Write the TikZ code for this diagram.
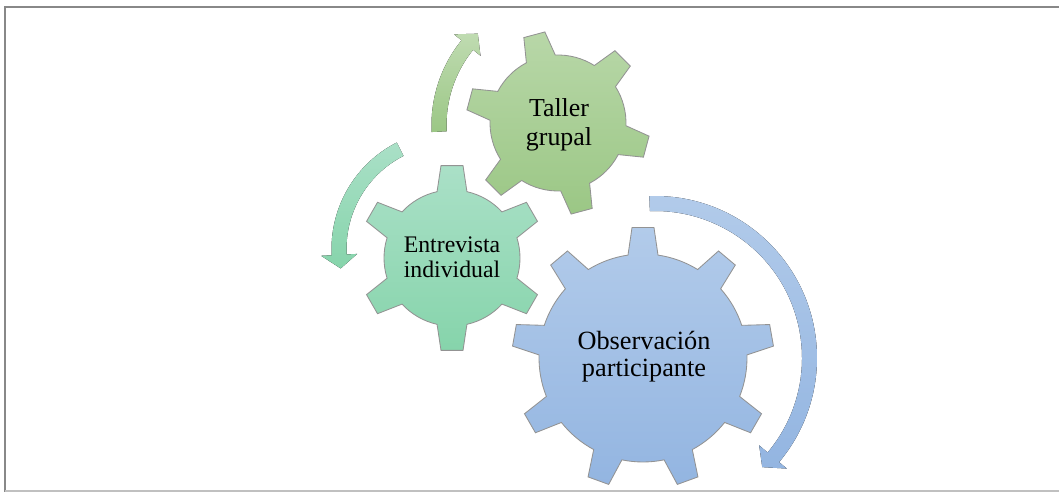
\documentclass[tikz,border=0pt]{standalone}
\usepackage{fontspec}
\setmainfont{Liberation Serif}

\definecolor{tallerTop}{RGB}{184,215,168}
\definecolor{tallerBot}{RGB}{155,199,133}
\definecolor{entrevTop}{RGB}{170,224,199}
\definecolor{entrevBot}{RGB}{134,212,171}
\definecolor{obsTop}{RGB}{178,203,234}
\definecolor{obsBot}{RGB}{147,181,225}
\definecolor{frameGray}{RGB}{136,136,136}
\definecolor{frameLight}{RGB}{192,192,192}

\begin{document}
\begin{tikzpicture}[x=0.025cm, y=-0.025cm,
    gearline/.style={draw=gray!85, line width=0.6pt},
    gearlabel/.style={align=center, inner sep=0pt}]
    % Frame
    \useasboundingbox (0,0) rectangle (1059,492);
    \draw[frameGray, line width=1.4pt] (1059,7) -- (5,7) -- (5,492);
    \draw[frameLight, line width=1pt] (5,491) -- (1059,491);

    % Arrows around the gears
    \fill[top color=tallerTop!90!white, bottom color=tallerBot, shift={(566,125)}]
        (177:134.5) arc[start angle=177, end angle=219, radius=134.5]
        -- (219:144) -- (226:127) -- (219:110) -- (219:119.5)
        arc[start angle=219, end angle=177, radius=119.5] -- cycle;
    \fill[top color=entrevTop, bottom color=entrevBot, shift={(451,249)}]
        (243:119.5) arc[start angle=243, end angle=177, radius=119.5]
        -- (177:130) -- (170:112) -- (177:94) -- (177:104.5)
        arc[start angle=177, end angle=243, radius=104.5] -- cycle;
    \fill[top color=obsTop, bottom color=obsBot, shift={(655,358)}]
        (-92:162) arc[start angle=-92, end angle=40, radius=162]
        -- (40:172) -- (45.5:153) -- (40:136) -- (40:147)
        arc[start angle=40, end angle=-92, radius=147] -- cycle;

    % Gears
    \draw[gearline, top color=tallerTop, bottom color=tallerBot, shift={(558,123)}]
        ({-105-12.7}:68)
        \foreach \a in {-105,-45,...,195} {
            -- ({\a-12.7}:68) -- ({\a-6.8}:92) -- ({\a+6.8}:92) -- ({\a+12.7}:68)
            arc[start angle=\a+12.7, end angle=\a+60-12.7, radius=68]
        } -- cycle;
    \draw[gearline, top color=entrevTop, bottom color=entrevBot, shift={(452,258)}]
        ({-90-12.7}:68)
        \foreach \a in {-90,-30,...,210} {
            -- ({\a-12.7}:68) -- ({\a-6.8}:93) -- ({\a+6.8}:93) -- ({\a+12.7}:68)
            arc[start angle=\a+12.7, end angle=\a+60-12.7, radius=68]
        } -- cycle;
    \draw[gearline, top color=obsTop, bottom color=obsBot, shift={(643,358)}]
        ({-90-8.3}:104)
        \foreach \a in {-90,-50,...,230} {
            -- ({\a-8.3}:104) -- ({\a-4.8}:131) -- ({\a+4.8}:131) -- ({\a+8.3}:104)
            arc[start angle=\a+8.3, end angle=\a+40-8.3, radius=104]
        } -- cycle;

    % Labels
    \node[gearlabel, font=\fontsize{18.4}{20.6}\selectfont] (taller) at (559,125) {Taller\\grupal};
    \node[gearlabel, font=\fontsize{16.9}{17.8}\selectfont] (entrevista) at (452,257) {Entrevista\\individual};
    \node[gearlabel, font=\fontsize{18.7}{19.2}\selectfont] (observacion) at (644,357) {Observación\\participante};
\end{tikzpicture}
\end{document}
